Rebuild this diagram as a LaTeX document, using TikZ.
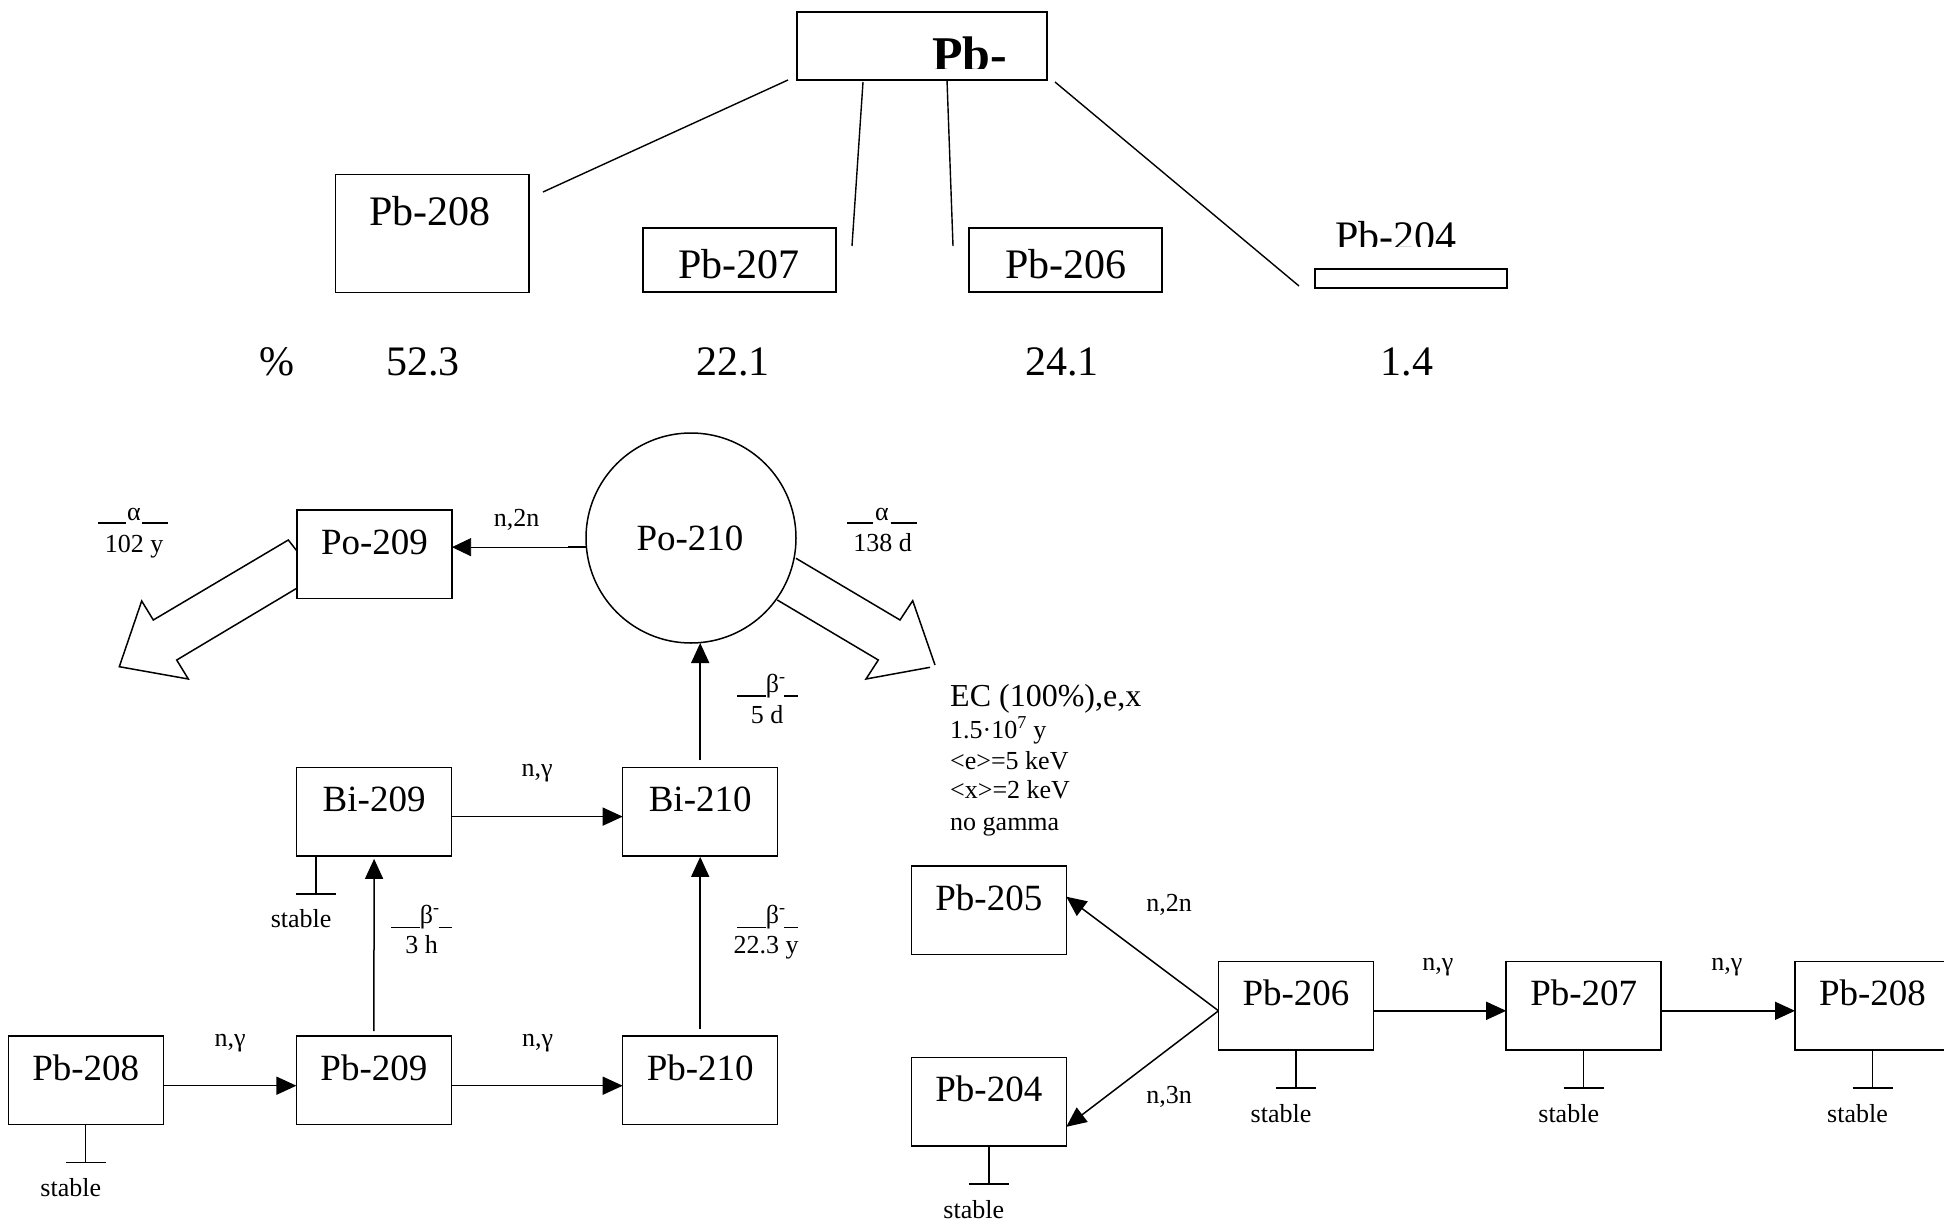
\documentclass[tikz,border=0pt]{standalone}
\usepackage{fontspec}
\setmainfont{Liberation Serif}
\usetikzlibrary{arrows.meta,calc}
\newcommand\fNode{\fontsize{37}{40}\selectfont}
\newcommand\fTop{\fontsize{42}{46}\selectfont}
\newcommand\fSmall{\fontsize{26}{28}\selectfont}
\newcommand\fEC{\fontsize{32}{34}\selectfont}
\newcommand\fBig{\fontsize{50}{54}\selectfont\bfseries}
\newcommand\stablemark[2]{%
  \draw[conn] (#1) -- ++(0,38) coordinate (#2);
  \draw[conn] ($(#2)+(-20,0)$) -- ($(#2)+(20,0)$);
  \node[small] (#2l) at ($(#2)+(-15,34)$) {stable};}
\begin{document}
\begin{tikzpicture}[x=1pt,y=-1pt,
  box/.style={draw,line width=1.5pt,minimum width=155pt,minimum height=88.5pt,inner sep=0pt,outer sep=0pt,text height=0pt,text depth=0pt,font=\fNode},
  tbox/.style={draw,line width=1.5pt,inner sep=0pt,outer sep=0pt},
  conn/.style={line width=1.4pt},
  uline/.style={line width=1.6pt},
  arr/.style={line width=1.5pt,-{Triangle[length=20pt,width=18pt]}},
  txt/.style={inner sep=0pt,anchor=base},
  small/.style={txt,font=\fSmall},
  hollow/.style={line width=1.5pt,line join=miter}]
\useasboundingbox (0,0) rectangle (1944,1223);

% ---------- top part ----------
\node[tbox,minimum width=250pt,minimum height=68pt] (pbtop) at (922,46) {};
\begin{scope}
  \clip (800,14) rectangle (1045,68.5);
  \node[txt,anchor=base west,font=\fBig] (pbtoplbl) at (932,71) {Pb-};
\end{scope}

\node[tbox,minimum width=193.5pt,minimum height=118pt] (t208) at (432,233.5) {};
\node[txt,font=\fTop] (t208l) at (430,225) {Pb-208};
\node[tbox,minimum width=193pt,minimum height=64pt] (t207) at (739.5,260) {};
\node[txt,font=\fTop] (t207l) at (739,278) {Pb-207};
\node[tbox,minimum width=193pt,minimum height=64pt] (t206) at (1065.5,260) {};
\node[txt,font=\fTop] (t206l) at (1066,278) {Pb-206};
\node[tbox,minimum width=192pt,minimum height=19pt] (t204) at (1411,278.5) {};
\begin{scope}
  \clip (1300,200) rectangle (1500,246.5);
  \node[txt,font=\fTop] (t204l) at (1396,250) {Pb-204};
\end{scope}

\coordinate (c1a) at (788,80);   \coordinate (c1b) at (543,192);
\coordinate (c2a) at (863,82);   \coordinate (c2b) at (852,246);
\coordinate (c3a) at (947,80);   \coordinate (c3b) at (953,246);
\coordinate (c4a) at (1055,82);  \coordinate (c4b) at (1299,286);
\draw[conn] (c1a) -- (c1b);
\draw[conn] (c2a) -- (c2b);
\draw[conn] (c3a) -- (c3b);
\draw[conn] (c4a) -- (c4b);

\node[txt,font=\fTop] (pct) at (276.5,375) {\%};
\node[txt,font=\fTop] (p208) at (423,375) {52.3};
\node[txt,font=\fTop] (p207) at (733,375) {22.1};
\node[txt,font=\fTop] (p206) at (1062,375) {24.1};
\node[txt,font=\fTop] (p204) at (1407,375) {1.4};

% ---------- Po / Bi / Pb chain ----------
\node[box] (po209) at (374.5,554) {Po-209};
\node[draw,circle,line width=1.5pt,minimum size=210pt,inner sep=0pt,outer sep=0pt] (po210) at (691,538) {};
\node[txt,font=\fNode] (po210l) at (690,550) {Po-210};

\node[box] (bi209) at (374.1,811.6) {Bi-209};
\node[box] (bi210) at (700.2,811.6) {Bi-210};
\node[box] (pbL208) at (85.75,1080) {Pb-208};
\node[box] (pb209) at (373.9,1080) {Pb-209};
\node[box] (pb210) at (700.2,1080) {Pb-210};

% n,2n  Po-210 -> Po-209
\draw[line width=0.7pt,-{Triangle[length=19pt,width=18pt]}] (po210.185.4) -- (po210.185.4 -| po209.east);
\draw[conn] (po210.185.4) -- ++(-18,0);
\node[small] (n2na) at (516.7,526.7) {n,2n};

% hollow alpha arrows
\draw[hollow] (296.7,550.7) -- (288.3,540) -- (153.3,620) -- (141.7,601) -- (119.3,666.7)
   -- (188.3,679) -- (176.7,660) -- (296.7,588.3);
\draw[hollow] (796,558.3) -- (900,620) -- (912.7,600.7) -- (935,665);
\draw[hollow] (930,667.3) -- (866,679) -- (878.3,660) -- (777.3,600);

% decay labels
\draw[uline] (98,523) -- (125.7,523);
\draw[uline] (141.7,523) -- (168.3,523);
\node[small] (al1) at (134,520) {α};
\node[small] (al1t) at (134,552) {102 y};

\draw[uline] (847,523) -- (873,523);
\draw[uline] (890.7,523) -- (917.3,523);
\node[small] (al2) at (882,520) {α};
\node[small] (al2t) at (882.5,551) {138 d};

\draw[uline] (737,696) -- (766,696);
\draw[uline] (784.3,696) -- (798,696);
\node[small,anchor=base west] (be1) at (765.7,692) {β\textsuperscript{-}};
\node[small] (be1t) at (767,723) {5 d};

\draw[uline] (391,927.3) -- (420,927.3);
\draw[uline] (438.6,927.3) -- (452,927.3);
\node[small,anchor=base west] (be2) at (419.7,923) {β\textsuperscript{-}};
\node[small] (be2t) at (421.6,953) {3 h};

\draw[uline] (737,927.3) -- (766,927.3);
\draw[uline] (784.3,927.3) -- (798,927.3);
\node[small,anchor=base west] (be3) at (765.7,923) {β\textsuperscript{-}};
\node[small] (be3t) at (766,953) {22.3 y};

% arrows in chain
\draw[arr] ($(pbL208.east)+(0,5.7)$) -- ($(pb209.west)+(0,5.7)$);
\draw[arr] ($(pb209.east)+(0,5.7)$) -- ($(pb210.west)+(0,5.7)$);
\draw[arr] ($(bi209.east)+(0,5)$) -- ($(bi210.west)+(0,5)$);
\draw[arr,shorten <=4.7pt,shorten >=3pt] (pb209.north) -- (bi209.south);
\draw[arr,shorten <=6.5pt,shorten >=1pt] (pb210.north) -- (bi210.south);
\draw[arr,shorten <=7pt] (bi210.north) -- (bi210.north |- po210.south);

\node[small] (ng1) at (230,1046.7) {n,γ};
\node[small] (ng2) at (537.6,1046.7) {n,γ};
\node[small] (ng3) at (537,776.7) {n,γ};

\stablemark{$(bi209.south west)+(19.5,0)$}{s1}
\stablemark{pbL208.south}{s2}

% EC text
\node[txt,anchor=base west,font=\fEC] (ec1) at (950,706) {EC (100\%),e,x};
\node[small,anchor=base west] (ec2) at (950,738) {1.5·10\textsuperscript{7} y};
\node[small,anchor=base west] (ec3) at (950,769) {<e>=5 keV};
\node[small,anchor=base west] (ec4) at (950,798) {<x>=2 keV};
\node[small,anchor=base west] (ec5) at (950,830) {no gamma};

% ---------- right chain ----------
\node[box] (pb205) at (988.8,910) {Pb-205};
\node[box] (pb204) at (988.8,1101.8) {Pb-204};
\node[box] (pb206) at (1296,1005.8) {Pb-206};
\node[box] (pb207) at (1583.7,1005.8) {Pb-207};
\node[box] (pbR208) at (1872.5,1005.8) {Pb-208};

\coordinate (fork) at ($(pb206.west)+(0,5)$);
\draw[arr] (fork) -- ($(pb205.east)+(0,-13.3)$);
\draw[arr] (fork) -- ($(pb204.east)+(0,25)$);
\draw[arr] ($(pb206.east)+(0,5)$) -- ($(pb207.west)+(0,5)$);
\draw[arr] ($(pb207.east)+(0,5)$) -- ($(pbR208.west)+(0,5)$);

\node[small] (n2nb) at (1169,911.7) {n,2n};
\node[small] (n3n) at (1169,1103) {n,3n};
\node[small] (ng4) at (1437.9,970) {n,γ};
\node[small] (ng5) at (1726.9,970) {n,γ};

\stablemark{pb206.south}{s3}
\stablemark{pb207.south}{s4}
\stablemark{pbR208.south}{s5}
\stablemark{pb204.south}{s6}
\end{tikzpicture}
\end{document}
